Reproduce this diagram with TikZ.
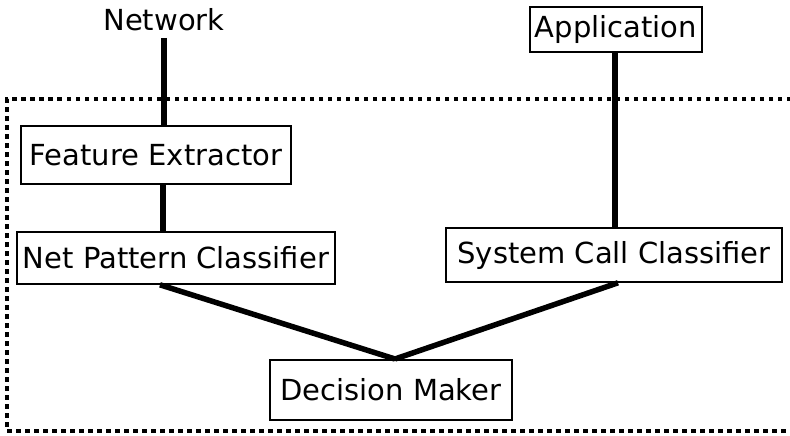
\documentclass[tikz,border=0pt]{standalone}
\usepackage{fontspec}
\setmainfont{DejaVu Sans}
\begin{document}
\begin{tikzpicture}[x=1pt,y=-1pt,
  txt/.style={font=\fontsize{29}{33}\selectfont},
  blk/.style={draw,line width=1.6pt,inner sep=0pt,txt},
  conn/.style={line width=5.5pt},
  frame/.style={line width=4.5pt,dash pattern=on 4.5pt off 4.5pt}]
\useasboundingbox (0,0) rectangle (790,436);
\draw[frame] (800,99) -- (7,99) -- (7,431) -- (800,431);
\node[txt] (net) at (164,20) {Network};
\coordinate (netb) at (164,38);
\node[blk,minimum width=270pt,minimum height=58pt] (fe) at (156,155) {Feature Extractor};
\node[blk,minimum width=318pt,minimum height=52pt] (npc) at (176,258) {Net Pattern Classifier};
\node[blk,minimum width=336pt,minimum height=54pt] (scc) at (614,255) {System Call Classifier};
\node[blk,minimum width=172pt,minimum height=45pt] (app) at (616,29.5) {Application};
\node[blk,minimum width=242pt,minimum height=60pt] (dm) at (391,390) {Decision Maker};
\coordinate (join) at (395,359);
\draw[conn] (netb) -- (netb |- fe.north);
\draw[conn] (fe.south -| 163,0) -- (npc.north -| 163,0);
\draw[conn] (app.south -| 615,0) -- (scc.north -| 615,0);
\draw[conn] (npc.south -| 160,0) -- (join);
\draw[conn] (scc.south -| 618,0) -- (join);
\end{tikzpicture}
\end{document}
